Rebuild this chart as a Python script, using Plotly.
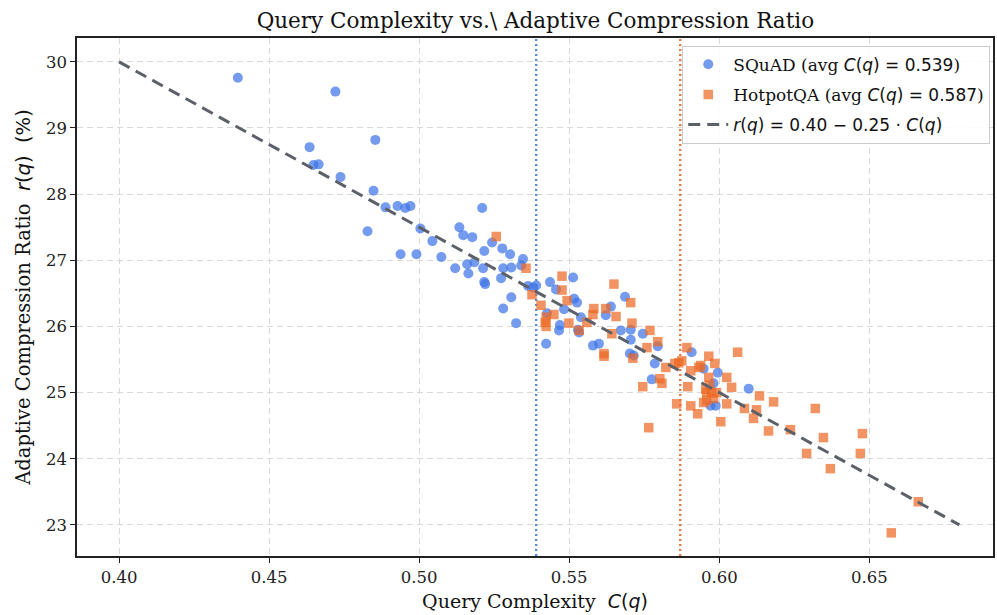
import plotly.graph_objects as go

# SQuAD samples: query complexity C(q) and adaptive compression ratio r(q) in %
squad_c = [0.4396, 0.4721, 0.4635, 0.4854, 0.4648, 0.4665, 0.4738, 0.4848, 0.4828, 0.4888,
           0.4928, 0.4954, 0.4971, 0.4938, 0.4991, 0.5004, 0.5044, 0.5074, 0.5134, 0.5147,
           0.5177, 0.5120, 0.5160, 0.5164, 0.5184, 0.5210, 0.5217, 0.5213, 0.5217, 0.5220,
           0.5243, 0.5277, 0.5303, 0.5280, 0.5273, 0.5307, 0.5307, 0.5280, 0.5323, 0.5346,
           0.5340, 0.5363, 0.5380, 0.5390, 0.5436, 0.5456, 0.5513, 0.5516, 0.5526, 0.5483,
           0.5426, 0.5469, 0.5466, 0.5423, 0.5529, 0.5533, 0.5539, 0.5579, 0.5599, 0.5622,
           0.5639, 0.5686, 0.5672, 0.5705, 0.5705, 0.5745, 0.5702, 0.5715, 0.5785, 0.5775,
           0.5795, 0.5908, 0.5948, 0.5995, 0.5981, 0.5971, 0.5988, 0.6098]
squad_r = [29.76, 29.55, 28.71, 28.82, 28.44, 28.45, 28.26, 28.05, 27.44, 27.80,
           27.82, 27.79, 27.82, 27.09, 27.09, 27.48, 27.29, 27.05, 27.50, 27.38,
           27.35, 26.88, 26.94, 26.80, 26.97, 27.79, 27.14, 26.88, 26.67, 26.64,
           27.27, 27.18, 27.09, 26.88, 26.73, 26.89, 26.44, 26.27, 26.05, 27.02,
           26.92, 26.61, 26.59, 26.62, 26.67, 26.56, 26.74, 26.42, 26.36, 26.26,
           26.20, 26.02, 25.94, 25.74, 25.95, 25.91, 26.14, 25.71, 25.74, 26.17,
           26.30, 26.45, 25.94, 25.95, 25.80, 25.89, 25.59, 25.56, 25.44, 25.20,
           25.70, 25.61, 25.36, 25.30, 25.14, 24.80, 24.80, 25.06]

# HotpotQA samples
hotpot_c = [0.5257, 0.5356, 0.5476, 0.5376, 0.5406, 0.5476, 0.5493, 0.5423, 0.5420, 0.5423,
            0.5449, 0.5499, 0.5533, 0.5559, 0.5582, 0.5579, 0.5622, 0.5649, 0.5656, 0.5642,
            0.5705, 0.5709, 0.5616, 0.5616, 0.5712, 0.5769, 0.5795, 0.5759, 0.5822, 0.5852,
            0.5865, 0.5802, 0.5809, 0.5745, 0.5858, 0.5892, 0.5875, 0.5905, 0.5932, 0.5938,
            0.5965, 0.5985, 0.5965, 0.5968, 0.5955, 0.5958, 0.5975, 0.5958, 0.5948, 0.5981,
            0.5991, 0.6025, 0.6041, 0.5895, 0.5905, 0.5928, 0.6005, 0.6025, 0.6061, 0.6084,
            0.6124, 0.6114, 0.6134, 0.6181, 0.6164, 0.6237, 0.5765, 0.6320, 0.6347, 0.6291,
            0.6370, 0.6477, 0.6470, 0.6663, 0.6573]
hotpot_r = [27.36, 26.88, 26.76, 26.48, 26.32, 26.55, 26.39, 26.14, 26.06, 26.00,
            26.18, 26.05, 25.94, 26.06, 26.27, 26.18, 26.27, 26.64, 26.15, 25.89,
            26.36, 26.05, 25.59, 25.55, 25.52, 25.94, 25.77, 25.68, 25.38, 25.44,
            25.45, 25.21, 25.14, 25.09, 24.83, 25.68, 25.48, 25.33, 25.38, 25.41,
            25.55, 25.44, 25.23, 25.11, 25.05, 25.00, 25.00, 24.88, 24.85, 24.91,
            25.00, 25.23, 25.08, 25.09, 24.80, 24.68, 24.56, 24.83, 25.61, 24.76,
            24.74, 24.61, 24.95, 24.86, 24.42, 24.44, 24.47, 24.76, 24.32, 24.08,
            23.85, 24.38, 24.08, 23.35, 22.88]

# average complexity per dataset (shown as vertical reference lines)
squad_avg = 0.539
hotpot_avg = 0.587

# fitted relation r(q) = 0.40 - 0.25 * C(q), drawn over this complexity span
fit_c = [0.40, 0.68]
fit_r = [(0.40 - 0.25 * c) * 100 for c in fit_c]

x_ticks = [0.40, 0.45, 0.50, 0.55, 0.60, 0.65]
x_tick_text = ["0.40", "0.45", "0.50", "0.55", "0.60", "0.65"]
y_ticks = [23, 24, 25, 26, 27, 28, 29, 30]

SERIF = "DejaVu Serif, serif"
BLUE = "#3f74e8"
ORANGE = "#ec6a26"


def math(s):
    return f"<span style='font-family:DejaVu Sans'>{s}</span>"


fig = go.Figure()

fig.add_trace(go.Scatter(
    x=[squad_avg, squad_avg], y=[22.0, 31.0], mode="lines",
    line=dict(color="#5a8ad8", width=2.4, dash="2px,3px"),
    showlegend=False, hoverinfo="skip"))
fig.add_trace(go.Scatter(
    x=[hotpot_avg, hotpot_avg], y=[22.0, 31.0], mode="lines",
    line=dict(color="#e57a45", width=2.4, dash="2px,3px"),
    showlegend=False, hoverinfo="skip"))

fig.add_trace(go.Scatter(
    x=squad_c, y=squad_r, mode="markers", legendgroup="squad",
    name="SQuAD (avg " + math(f"<i>C</i>(<i>q</i>) = {squad_avg:.3f}") + ")",
    marker=dict(symbol="circle", size=10, color=BLUE, opacity=0.72,
                line=dict(width=0))))
fig.add_trace(go.Scatter(
    x=hotpot_c, y=hotpot_r, mode="markers", legendgroup="hotpot",
    name="HotpotQA (avg " + math(f"<i>C</i>(<i>q</i>) = {hotpot_avg:.3f}") + ")",
    marker=dict(symbol="square", size=9.5, color=ORANGE, opacity=0.72,
                line=dict(width=0))))
fig.add_trace(go.Scatter(
    x=fit_c, y=fit_r, mode="lines", legendgroup="fit",
    name=math("<i>r</i>(<i>q</i>) = 0.40 − 0.25 · <i>C</i>(<i>q</i>)"),
    line=dict(color="#5c6069", width=3, dash="12px,7px")))

axis_common = dict(
    showline=True, linecolor="#222", linewidth=1.6, mirror=True,
    ticks="outside", ticklen=5, tickwidth=1.2, tickcolor="#222",
    showgrid=True, gridcolor="#d9d9d9", gridwidth=1, griddash="6px,4px",
    zeroline=False, tickfont=dict(family=SERIF, size=16.5, color="#222"),
)

fig.update_layout(
    width=997, height=615,
    margin=dict(l=77, r=2, t=38, b=59),
    paper_bgcolor="white", plot_bgcolor="white",
    title=dict(text="Query Complexity vs.\\ Adaptive Compression Ratio",
               x=0.537, xanchor="center", y=0.967, yanchor="middle",
               font=dict(family=SERIF, size=21.5, color="#111")),
    xaxis=dict(range=[0.386, 0.6912], tickvals=x_ticks, ticktext=x_tick_text,
               title=dict(text="Query Complexity  " + math("<i>C</i>(<i>q</i>)"),
                          font=dict(family=SERIF, size=19, color="#111"), standoff=9),
               **axis_common),
    yaxis=dict(range=[22.53, 30.36], tickvals=y_ticks,
               title=dict(text="Adaptive Compression Ratio  " + math("<i>r</i>(<i>q</i>)  (%)"),
                          font=dict(family=SERIF, size=19.5, color="#111"), standoff=10),
               **axis_common),
    legend=dict(x=0.997, y=0.985, xanchor="right", yanchor="top",
                bgcolor="rgba(255,255,255,0.85)", bordercolor="#cccccc", borderwidth=1,
                font=dict(family=SERIF, size=17, color="#111"),
                traceorder="grouped", tracegroupgap=5, itemwidth=40),
    showlegend=True,
)

fig.write_html("out.html")
